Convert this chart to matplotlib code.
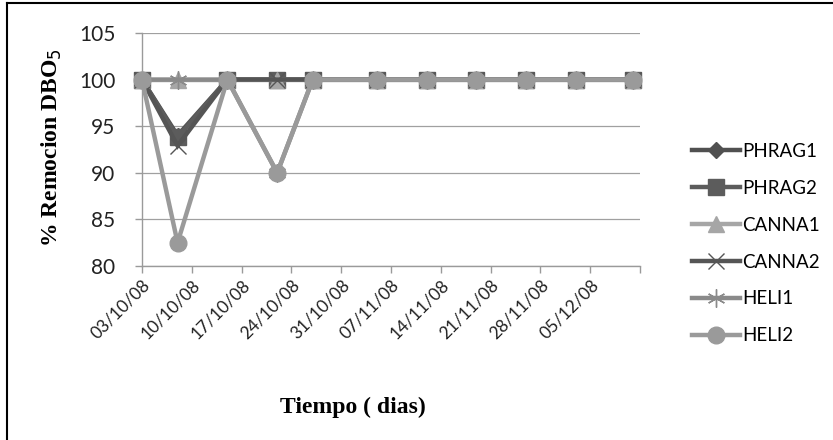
import matplotlib
matplotlib.use('Agg')
import matplotlib.pyplot as plt
from matplotlib.lines import Line2D
import pandas as pd

# data
fechas = ['2008-10-03', '2008-10-08', '2008-10-15', '2008-10-22', '2008-10-27',
          '2008-11-05', '2008-11-12', '2008-11-19', '2008-11-26', '2008-12-03', '2008-12-11']
phrag1 = [100, 94, 100, 100, 100, 100, 100, 100, 100, 100, 100]
phrag2 = [100, 93.8, 100, 100, 100, 100, 100, 100, 100, 100, 100]
canna1 = [100, 100, 100, 100, 100, 100, 100, 100, 100, 100, 100]
canna2 = [100, 92.9, 100, 100, 100, 100, 100, 100, 100, 100, 100]
heli1 = [100, 100, 100, 90, 100, 100, 100, 100, 100, 100, 100]
heli2 = [100, 82.5, 100, 90, 100, 100, 100, 100, 100, 100, 100]

tick_fechas = pd.date_range('2008-10-03', '2008-12-12', freq='7D')
tick_labels = [d.strftime('%d/%m/%y') for d in tick_fechas[:-1]] + ['']

x = pd.to_datetime(fechas)

fig = plt.figure(figsize=(8.33, 4.4), dpi=100)
ax = fig.add_axes([142/833, 1-266/440, (640-142)/833, (266-33)/440])

series = [
    ('PHRAG1', phrag1, '#505050', 'D', 8),
    ('PHRAG2', phrag2, '#5c5c5c', 's', 12),
    ('CANNA1', canna1, '#a6a6a6', '^', 12),
    ('CANNA2', canna2, '#555555', 'x', 12),
    ('HELI1', heli1, '#8a8a8a', (6, 2, 0), 13),
    ('HELI2', heli2, '#9a9a9a', 'o', 12),
]
for name, vals, col, mk, ms in series:
    ax.plot(x, vals, color=col, lw=3.2, marker=mk, ms=ms, mfc=col, mec=col,
            mew=1.0, label=name, solid_joinstyle='miter', clip_on=False)

ax.set_ylim(80, 105)
ax.set_yticks([80, 85, 90, 95, 100, 105])
ax.set_xlim(tick_fechas[0], tick_fechas[-1])
ax.set_xticks(tick_fechas)
ax.set_xticklabels(tick_labels, rotation=45, ha='right', rotation_mode='anchor',
                   fontsize=12.5, family='Lato', color='#222222')
for lab in ax.get_yticklabels():
    lab.set_family('Lato')
    lab.set_fontsize(15)
    lab.set_color('#222222')

ax.grid(axis='y', color='#a0a0a0', lw=0.9)
ax.set_axisbelow(True)
for s in ['top', 'right']:
    ax.spines[s].set_visible(False)
for s in ['left', 'bottom']:
    ax.spines[s].set_color('#9a9a9a')
    ax.spines[s].set_linewidth(1.0)
ax.tick_params(axis='both', direction='out', length=5, color='#9a9a9a', width=1.0)
ax.tick_params(axis='y', pad=14)
ax.tick_params(axis='x', pad=3)

ax.set_xlabel('Tiempo ( dias)', family='Liberation Serif', fontweight='bold', fontsize=17)
ax.xaxis.set_label_coords((353-142)/(640-142), -(397-266)/(266-33))
ax.set_ylabel('% Remocion DBO$_5$', family='Liberation Serif', fontweight='bold', fontsize=17)
ax.yaxis.set_label_coords(-(142-64)/(640-142), (266-148)/(266-33))

handles = [Line2D([], [], color=c, lw=3.2, marker=m, ms=s, mfc=c, mec=c) for _, _, c, m, s in series]
leg = fig.legend(handles, [s[0] for s in series], loc='upper left',
                 bbox_to_anchor=(675/833, 1-126/440), frameon=False,
                 prop={'family': 'Lato', 'size': 13.5}, handlelength=2.55,
                 labelspacing=1.06, handletextpad=0.15)

# recorte del marco (solo arriba e izquierda)
fig.add_artist(Line2D([7/833, 1], [1-3.5/440, 1-3.5/440], color='black', lw=1.5, transform=fig.transFigure))
fig.add_artist(Line2D([7/833, 7/833], [0, 1-3.5/440], color='black', lw=1.5, transform=fig.transFigure))

fig.savefig('out.png', dpi=100)
